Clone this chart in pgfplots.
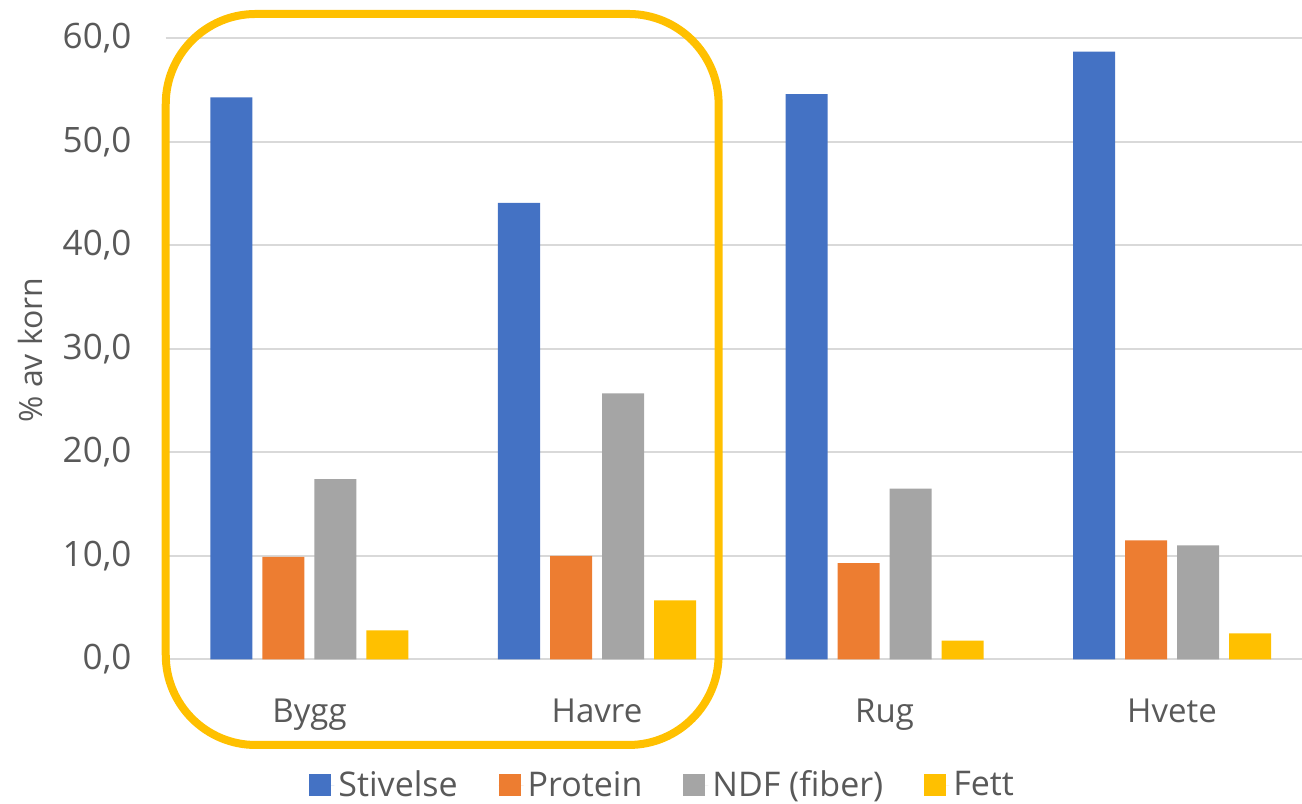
\documentclass[border=0pt]{standalone}
\usepackage{fontspec}
\setmainfont{Open Sans}
\usepackage{pgfplots}
\usepackage{pgfplotstable}
\pgfplotsset{compat=1.18}

\definecolor{stiv}{HTML}{4472C4}
\definecolor{prot}{HTML}{ED7D31}
\definecolor{ndf}{HTML}{A5A5A5}
\definecolor{fett}{HTML}{FFC000}
\definecolor{txt}{HTML}{595959}
\definecolor{grd}{HTML}{D9D9D9}

% % av korn per kornslag
\pgfplotstableread{
x stiv prot ndf fett
0 54.3 9.9 17.4 2.8
1 44.1 10.0 25.7 5.7
2 54.6 9.3 16.5 1.8
3 58.7 11.5 11.0 2.5
}\korn

\begin{document}
\begin{tikzpicture}
    \begin{axis}[
            name=ax,
            scale only axis,
            width=575pt, height=310.5pt,
            ybar=5pt, bar width=21pt,
            xmin=-0.5, xmax=3.5,
            ymin=0, ymax=60,
            xtick=data,
            xticklabels={Bygg,Havre,Rug,Hvete},
            ytick={0,10,...,60},
            axis line style={draw=none},
            major tick length=0pt,
            ymajorgrids,
            grid style={grd, line width=1pt},
            /pgf/number format/fixed,
            /pgf/number format/fixed zerofill,
            /pgf/number format/precision=1,
            /pgf/number format/use comma,
            /pgf/number format/assume math mode=true,
            tick label style={text=txt},
            yticklabel style={anchor=east, inner sep=0pt, xshift=-17pt,
                    font=\fontsize{17.5}{20}\selectfont},
            xticklabel style={anchor=north, inner sep=0pt, yshift=-19.5pt,
                    font=\fontsize{16.5}{20}\selectfont},
            ylabel={\% av korn},
            ylabel style={at={(axis description cs:-0.118,0.498)}, anchor=center,
                    font=\fontsize{16}{19}\selectfont, text=txt},
            legend style={draw=none, at={(0.433,-0.2025)}, anchor=center,
                    legend columns=4, font=\fontsize{17}{20}\selectfont, text=txt,
                    /tikz/every even column/.append style={column sep=18.5pt}},
            legend image code/.code={
                \fill[#1] (0pt,-5.5pt) rectangle (11pt,5.5pt);
                \path (0pt,0pt) -- (12.5pt,0pt);
            },
            clip=false,
        ]

        \addplot[draw=none, fill=stiv] table[x=x, y=stiv] {\korn};
        \addlegendentry{Stivelse}
        \addplot[draw=none, fill=prot] table[x=x, y=prot] {\korn};
        \addlegendentry{Protein}
        \addplot[draw=none, fill=ndf] table[x=x, y=ndf] {\korn};
        \addlegendentry{NDF (fiber)}
        \addplot[draw=none, fill=fett] table[x=x, y=fett] {\korn};
        \addlegendentry{Fett}

        % markering rundt Bygg og Havre
        \draw[fett, line width=4pt, rounded corners=45pt]
            (axis cs:-0.5,62.35) rectangle (axis cs:1.423,-8.28);
    \end{axis}
    \pgfresetboundingbox
    \path ([shift={(-82.875pt,-72.35pt)}]ax.south west) rectangle ([shift={(-6.875pt,19.15pt)}]ax.north east);
\end{tikzpicture}
\end{document}
